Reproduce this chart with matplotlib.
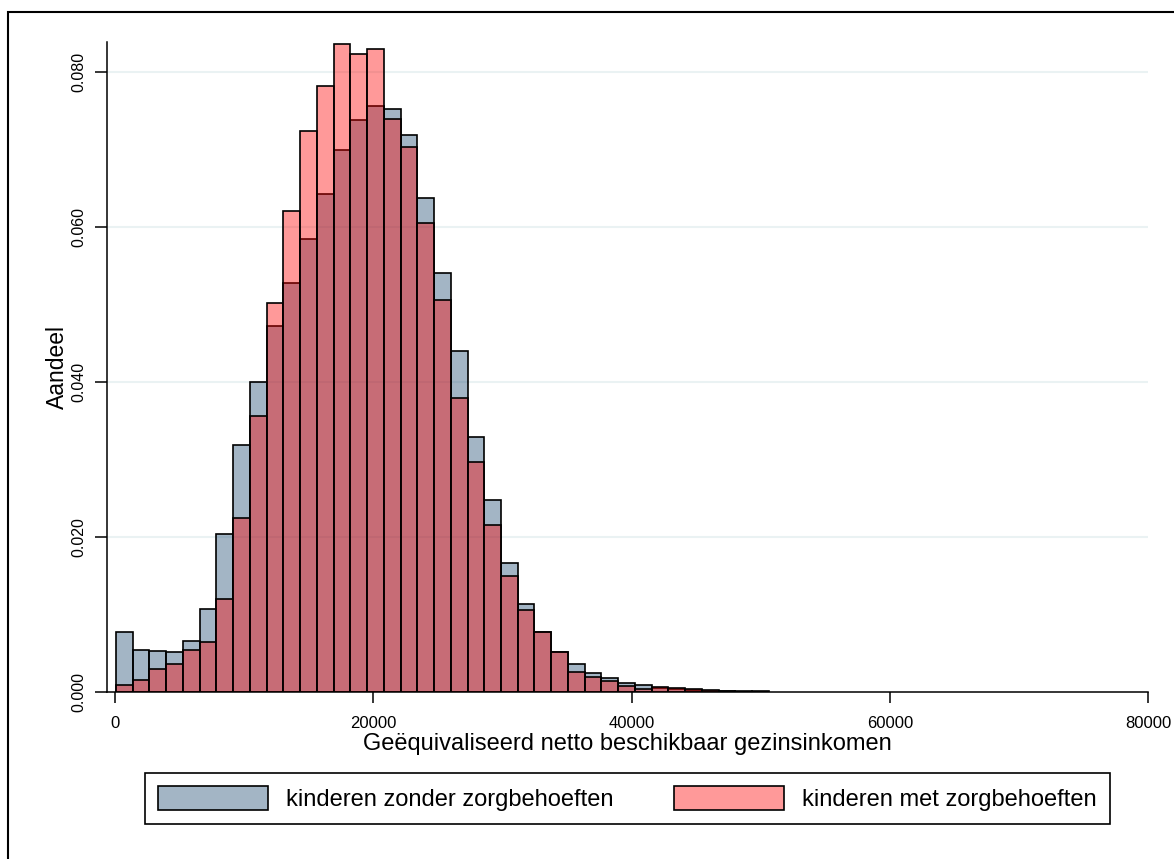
import numpy as np
import matplotlib
matplotlib.use("Agg")
from matplotlib import pyplot as plt
from matplotlib.patches import Patch, Rectangle

plt.rcParams["font.family"] = ["Liberation Sans", "DejaVu Sans"]

# histogram bins (income, euro)
bin_start = 50
bin_width = 1297

# share per bin
zonder = [0.0078, 0.0054, 0.0053, 0.0052, 0.0066, 0.0107, 0.0204, 0.0319, 0.0400, 0.0473,
          0.0528, 0.0585, 0.0643, 0.0699, 0.0738, 0.0757, 0.0752, 0.0719, 0.0637, 0.0541,
          0.0440, 0.0329, 0.0248, 0.0167, 0.0114, 0.0077, 0.0051, 0.0036, 0.0025, 0.0018,
          0.0012, 0.0009, 0.0005, 0.0004, 0.0002, 0.0001, 0.0001, 0.0001, 0.00005]
met = [0.0009, 0.0016, 0.0030, 0.0036, 0.0054, 0.0065, 0.0120, 0.0225, 0.0356, 0.0502,
       0.0621, 0.0724, 0.0782, 0.0837, 0.0823, 0.0830, 0.0740, 0.0704, 0.0605, 0.0506,
       0.0380, 0.0297, 0.0215, 0.0150, 0.0106, 0.0078, 0.0052, 0.0026, 0.0020, 0.0014,
       0.0008, 0.00045, 0.00065, 0.00047, 0.00034, 0.00026, 0.00013, 0.00005, 0.0001]

labels = ["kinderen zonder zorgbehoeften", "kinderen met zorgbehoeften"]
xticks = [0, 20000, 40000, 60000, 80000]
yticks = [0.0, 0.02, 0.04, 0.06, 0.08]

navy = (26/255, 71/255, 111/255, 0.4)
red = (1.0, 0.0, 0.0, 0.4)

edges = bin_start + bin_width * np.arange(len(zonder))

fig = plt.figure(figsize=(11.74, 8.59), dpi=100)
ax = fig.add_axes([107/1174, 1 - 692/859, (1148 - 107)/1174, 650/859])

ax.bar(edges, zonder, width=bin_width, align="edge", color=navy,
       edgecolor="black", linewidth=1.2, zorder=2)
ax.bar(edges, met, width=bin_width, align="edge", color=red,
       edgecolor="black", linewidth=1.2, zorder=3)

ax.set_xlim(-640, 80000)
ax.set_ylim(0, 0.0839)

for y in yticks[1:]:
    ax.axhline(y, color="#EAF2F3", linewidth=1.5, zorder=1)

for side in ["top", "right"]:
    ax.spines[side].set_visible(False)
ax.spines["left"].set_linewidth(1.1)
ax.spines["bottom"].set_linewidth(1.1)

ax.set_xticks(xticks)
ax.set_xticklabels([str(t) for t in xticks])
ax.set_yticks(yticks)
ax.set_yticklabels([f"{t:.3f}" for t in yticks], rotation=90, va="center")
ax.tick_params(axis="x", length=8, width=1.1, pad=9, labelsize=12)
ax.tick_params(axis="y", length=8.5, width=1.1, pad=6, labelsize=11.5)

ax.set_xlabel("Geëquivaliseerd netto beschikbaar gezinsinkomen", fontsize=17)
ax.xaxis.set_label_coords(0.5, -0.08)
ax.xaxis.label.set_verticalalignment("center")
ax.set_ylabel("Aandeel", fontsize=16.5)
ax.yaxis.set_label_coords(-0.048, 0.5)
ax.yaxis.label.set_verticalalignment("center")

handles = [Patch(facecolor=navy, edgecolor="black", linewidth=1.2),
           Patch(facecolor=red, edgecolor="black", linewidth=1.2)]
leg = fig.legend(handles, labels, loc="center",
                 bbox_to_anchor=(145/1174, 1 - 826/859, 965/1174, 55/859),
                 mode="expand", ncol=2, fontsize=17, frameon=True, fancybox=False,
                 edgecolor="black", framealpha=1, borderpad=0.55,
                 handlelength=4.66, handleheight=1.19, handletextpad=0.76,
                 borderaxespad=0)
leg.get_frame().set_linewidth(1.2)

# outer frame of the graph region
fig.add_artist(Rectangle((8/1174, -0.1), 1.2, 1.1 - 12/859, transform=fig.transFigure,
                         fill=False, edgecolor="black", linewidth=1.5, clip_on=False))

plt.savefig("out.png", dpi=100)
plt.close()
